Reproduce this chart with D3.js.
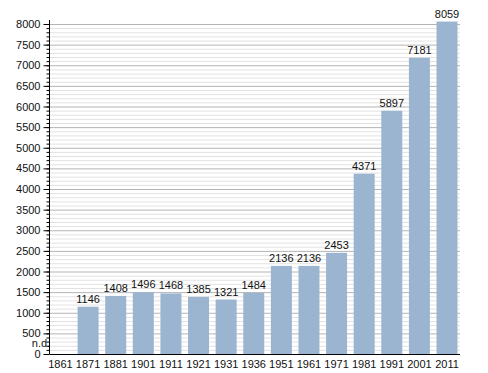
<!DOCTYPE html>
<html>
<head>
<meta charset="utf-8">
<script src="https://cdn.jsdelivr.net/npm/d3@7"></script>
<style>
	body { margin: 0; background: #fff; }
	text { font-family: "Liberation Sans", Arial, sans-serif; font-size: 11px; fill: #111; }
</style>
</head>
<body>
<div id="chart"></div>
<script>
var years = ["1861", "1871", "1881", "1901", "1911", "1921", "1931", "1936", "1951", "1961", "1971", "1981", "1991", "2001", "2011"];
var population = [null, 1146, 1408, 1496, 1468, 1385, 1321, 1484, 2136, 2136, 2453, 4371, 5897, 7181, 8059];
var yTicks = d3.range(0, 8001, 500);

var width = 488,
	height = 373;

var margin = {top: 24, right: 28, bottom: 19, left: 50};

var svg = d3.select("#chart")
	.append("svg")
		.attr("width", width)
		.attr("height", height);

var x = d3.scaleBand()
	.domain(years)
	.range([margin.left, width - margin.right - 2.5])
	.paddingInner(0.24)
	.paddingOuter(0);

var y = d3.scaleLinear()
	.domain([0, 8000])
	.range([height - margin.bottom, margin.top]);

// minor grid every 100, major every 500
var grid = svg.append("g");
grid.selectAll("line.minor")
	.data(d3.range(100, 8001, 100).filter(function(d) { return d % 500 !== 0; }))
	.enter().append("line")
		.attr("x1", margin.left).attr("x2", width - margin.right)
		.attr("y1", function(d) { return y(d) + 0.5; })
		.attr("y2", function(d) { return y(d) + 0.5; })
		.attr("stroke", "#e2e2e2");
grid.selectAll("line.major")
	.data(yTicks.slice(1))
	.enter().append("line")
		.attr("x1", margin.left).attr("x2", width - margin.right)
		.attr("y1", function(d) { return y(d) + 0.5; })
		.attr("y2", function(d) { return y(d) + 0.5; })
		.attr("stroke", "#b4b4b4");

var data = years.map(function(d, i) { return {year: d, value: population[i]}; });

svg.append("g").selectAll("rect")
	.data(data.filter(function(d) { return d.value !== null; }))
	.enter().append("rect")
		.attr("x", function(d) { return x(d.year); })
		.attr("width", x.bandwidth())
		.attr("y", function(d) { return y(d.value); })
		.attr("height", function(d) { return y(0) - y(d.value); })
		.attr("fill", "#9bb4d0");

svg.append("g").selectAll("text")
	.data(data)
	.enter().append("text")
		.attr("x", function(d) { return d.value === null ? margin.left - 9 : x(d.year) + x.bandwidth() / 2; })
		.attr("y", function(d) { return d.value === null ? y(0) - 7 : y(d.value) - 4; })
		.attr("text-anchor", "middle")
		.text(function(d) { return d.value === null ? "n.d." : d.value; });

// y axis: minor ticks + labelled major ticks
var yAxis = svg.append("g").attr("transform", "translate(" + (margin.left - 0.5) + ",0)");
yAxis.call(d3.axisLeft(y).tickValues(d3.range(0, 8001, 100)).tickSize(3).tickFormat(""))
	.call(function(g) { g.select(".domain").remove(); });
var yMajor = svg.append("g").attr("transform", "translate(" + (margin.left - 0.5) + ",0)")
	.call(d3.axisLeft(y).tickValues(yTicks).tickSize(6).tickSizeOuter(0).tickPadding(3).tickFormat(d3.format("d")));
yMajor.selectAll("text").style("font-size", "11px").style("font-family", "Liberation Sans, Arial, sans-serif");
yMajor.select(".domain").attr("d", "M0," + (margin.top - 4) + "V" + y(0));

// x axis
var xAxis = svg.append("g").attr("transform", "translate(0," + (y(0) + 0.5) + ")")
	.call(d3.axisBottom(x).tickSize(0).tickPadding(6));
xAxis.select(".domain").attr("d", "M" + margin.left + ",0H" + (width - margin.right));
xAxis.selectAll("text").style("font-size", "11px").style("font-family", "Liberation Sans, Arial, sans-serif");
</script>
</body>
</html>
